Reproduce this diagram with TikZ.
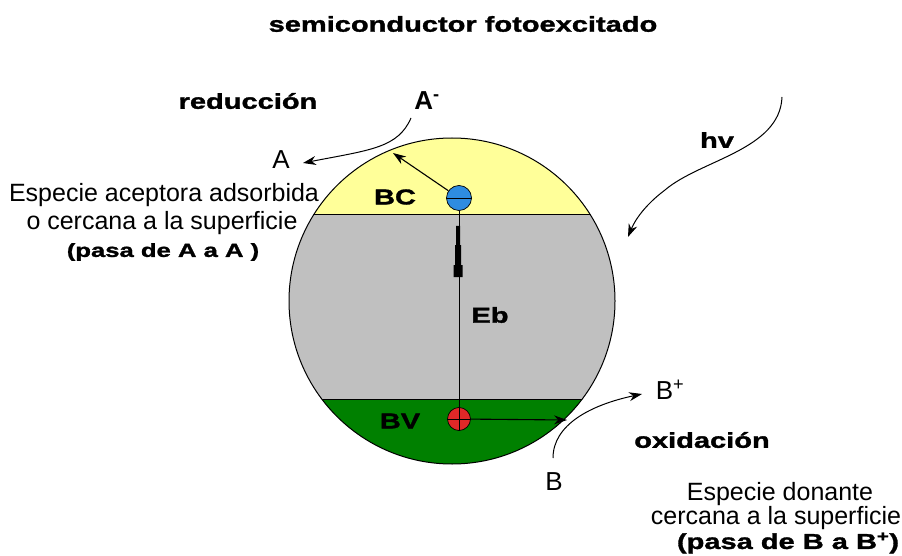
\documentclass[tikz,border=0pt]{standalone}
\usepackage{fontspec}
\setmainfont{Liberation Sans}
\newfontfamily\blk[FakeStretch=1.35,FakeBold=1.5]{Liberation Sans}
\usetikzlibrary{arrows.meta}
\definecolor{bcyel}{RGB}{255,255,153}
\definecolor{ebgray}{RGB}{192,192,192}
\definecolor{bvgreen}{RGB}{0,128,0}
\definecolor{eblue}{RGB}{46,140,224}
\definecolor{hred}{RGB}{224,40,40}
\tikzset{
  bold/.style={font=\blk\bfseries\fontsize{21.5}{24}\selectfont, inner sep=0pt},
  plain/.style={font=\fontsize{25}{28}\selectfont, inner sep=0pt},
  big/.style={font=\fontsize{26}{30}\selectfont, inner sep=0pt},
  conn/.style={line width=1.1pt, -{Stealth[length=13pt,width=9pt]}},
  curv/.style={line width=1pt, -{Stealth[length=13pt,width=9pt]}},
  carrier/.style={circle, draw=black, line width=0.7pt, minimum size=25pt, inner sep=0pt},
}
\begin{document}
\begin{tikzpicture}[x=1pt,y=-1pt]
\useasboundingbox (0,0) rectangle (902,556);
\fill[white] (0,0) rectangle (902,556);
% bands
\begin{scope}
\clip (452,301) circle (163);
\fill[bcyel] (280,130) rectangle (630,215);
\fill[ebgray] (280,215) rectangle (630,399);
\fill[bvgreen] (280,399) rectangle (630,470);
\draw[line width=1pt] (280,215) -- (630,215);
\draw[line width=1pt] (280,399) -- (630,399);
\end{scope}
\draw[line width=1pt] (452,301) circle (163);
% texts
\node[bold] (title) at (463,24) {semiconductor fotoexcitado};
\node[bold] (red) at (248,101) {reducción};
\node[bold] (ox) at (702,440) {oxidación};
\node[bold] (hv) at (717,140) {hv};
\node[bold] (bc) at (395,197) {BC};
\node[bold] (bv) at (400,421) {BV};
\node[bold] (eb) at (490,315) {Eb};
\node[big, font=\bfseries\fontsize{26}{30}\selectfont] (am) at (427,101) {A\textsuperscript{-}};
\node[big] (a) at (281,160) {A};
\node[big] (bp) at (670,390) {B\textsuperscript{+}};
\node[big] (b) at (554,482) {B};
\node[plain] (l1) at (164,195) {Especie aceptora adsorbida};
\node[plain] (l2) at (162,223) {o cercana a la superficie};
\node[bold, font=\blk\bfseries\fontsize{19}{22}\selectfont] (l3) at (163,252) {(pasa de A a A )};
\node[plain] (r1) at (780,494) {Especie donante};
\node[plain] (r2) at (776,518) {cercana a la superficie};
\node[bold] (r3) at (788,543) {(pasa de B a B\textsuperscript{+})};
% carriers
\node[carrier, fill=eblue] (e) at (459,198) {};
\draw[line width=0.8pt] (e.west) -- (e.east);
\node[carrier, fill=hred, minimum size=23pt] (h) at (459,419) {};
\draw[line width=0.7pt] (h.west) -- (h.east) (h.north) -- (h.south);
% excitation
\draw[line width=1pt] (h.north) -- (e.south);
\fill (453.5,277) -- (462.5,277) -- (462.5,265) -- (461,265) -- (461,245) -- (460,245) -- (460,226) -- (456,226) -- (456,245) -- (455,245) -- (455,265) -- (453.5,265) -- cycle;
% electron to A
\coordinate (ea) at (393,153);
\coordinate (ams) at (411,118);
\coordinate (at) at (303,163);
\draw[conn] (e) -- (ea);
\draw[curv] (ams) .. controls (398,148) and (370,150) .. (at);
% hole to B
\coordinate (hb) at (567,420);
\coordinate (bs) at (553,458);
\coordinate (bt) at (642,394);
\draw[conn] (h) -- (hb);
\draw[curv] (bs) .. controls (553,425) and (590,405) .. (bt);
% light
\coordinate (hvs) at (782,97);
\coordinate (hvm) at (665,190);
\coordinate (hve) at (628,237);
\draw[curv] (hvs) .. controls (780,150) and (700,160) .. (hvm) .. controls (645,205) and (635,220) .. (hve);
\end{tikzpicture}
\end{document}
